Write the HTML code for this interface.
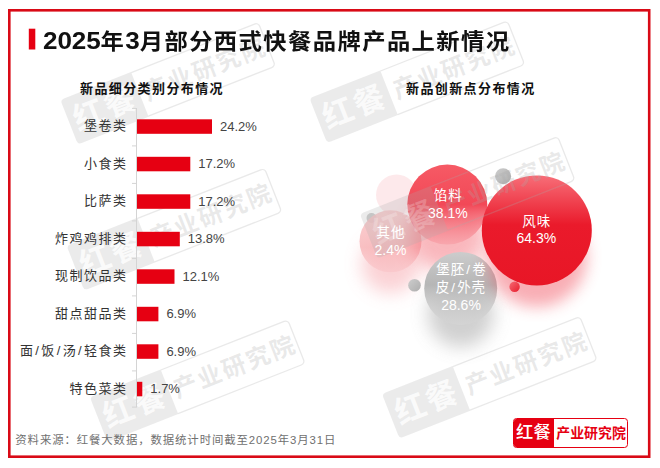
<!DOCTYPE html>
<html lang="zh-CN">
<head>
<meta charset="utf-8">
<title>2025年3月部分西式快餐品牌产品上新情况</title>
<style>
*{margin:0;padding:0;box-sizing:border-box}
html,body{width:660px;height:468px;background:#fff;overflow:hidden}
body{position:relative;font-family:"Liberation Sans","Noto Sans CJK SC",sans-serif;color:#333}
.abs{position:absolute}
#title{position:absolute;left:43px;top:22.6px;height:36px;line-height:36px;font-size:22px;letter-spacing:1.32px;font-weight:700;color:#111;white-space:nowrap;transform:scaleX(1.06);transform-origin:0 50%}
#title b{font-size:24.6px;letter-spacing:-.1px;font-weight:700;vertical-align:-0.5px}
.sub{position:absolute;font-size:13px;letter-spacing:1.4px;font-weight:700;color:#111;white-space:nowrap;line-height:20px;height:20px}
.lab{position:absolute;right:532.5px;width:140px;text-align:right;font-size:13px;letter-spacing:1.5px;line-height:20px;height:20px;color:#333;white-space:nowrap}
.val{position:absolute;font-size:13px;line-height:20px;height:20px;color:#444;white-space:nowrap}
#foot{position:absolute;left:15.3px;top:430.6px;font-size:11.4px;letter-spacing:.9px;line-height:18px;color:#707070;white-space:nowrap}
.lab i{font-style:normal;margin:0 .85px}
/* logo */
#logo{position:absolute;left:513px;top:418px;width:115.4px;height:29.5px;border:1px solid #e60012;border-radius:3.5px;background:#fff;overflow:hidden}
#logo .l{position:absolute;left:-1px;top:-1px;width:40.8px;height:30px;background:#e60012;color:#fff;font-weight:500;font-size:17.2px;line-height:29.8px;text-align:center;letter-spacing:.4px;text-indent:.4px}
#logo .r{position:absolute;left:39.8px;top:-1px;width:74.5px;height:30px;color:#e60012;font-weight:700;font-size:13.9px;line-height:30.2px;text-align:center;white-space:nowrap}
/* watermark */
.wmsvg text{font-family:"Liberation Sans","Noto Sans CJK SC",sans-serif}
/* bubbles */
.btxt{position:absolute;text-align:center;color:#fff;font-size:13.5px;letter-spacing:1px;text-indent:1px;line-height:17.8px;white-space:nowrap}
.btxt b{font-weight:400;font-size:14px;letter-spacing:0}
.btxt i{font-style:normal;margin:0 1px}
</style>
</head>
<body>
<!-- bubbles -->
<svg class="abs" style="left:0;top:0" width="660" height="468" viewBox="0 0 660 468">
<defs>
<linearGradient id="gRed" x1="0" y1="0" x2="0" y2="1"><stop offset="0" stop-color="#f76e78"/><stop offset=".45" stop-color="#ea1a2b"/><stop offset="1" stop-color="#e81626"/></linearGradient>
<linearGradient id="gRed2" x1="0" y1="0" x2="0" y2="1"><stop offset="0" stop-color="#f65a65"/><stop offset=".5" stop-color="#f24857"/><stop offset="1" stop-color="#f6808a" stop-opacity=".3"/></linearGradient>
<linearGradient id="gGray" x1="0" y1="0" x2="0" y2="1"><stop offset="0" stop-color="#cccccc"/><stop offset=".45" stop-color="#b6b6b6"/><stop offset="1" stop-color="#d6d6d6" stop-opacity=".55"/></linearGradient>
<linearGradient id="gPink" x1="0" y1="0" x2="0" y2="1"><stop offset="0" stop-color="#f9c6c8" stop-opacity=".85"/><stop offset=".6" stop-color="#f8b6b9" stop-opacity=".85"/><stop offset="1" stop-color="#f8b4b8" stop-opacity=".3"/></linearGradient>
<linearGradient id="gDot" x1="0" y1="0" x2="1" y2="1"><stop offset="0" stop-color="#cdcdcd"/><stop offset="1" stop-color="#adadad"/></linearGradient>
<linearGradient id="gDotR" x1="0" y1="0" x2="1" y2="1"><stop offset="0" stop-color="#f56a74"/><stop offset="1" stop-color="#e81c2c"/></linearGradient>
<filter id="bl" x="-50%" y="-50%" width="200%" height="200%"><feGaussianBlur stdDeviation="9"/></filter>
<filter id="bl2" x="-50%" y="-50%" width="200%" height="200%"><feGaussianBlur stdDeviation="7.5"/></filter>
</defs>
<circle cx="396.5" cy="195" r="20.5" fill="#f27880" opacity=".16"/>
<circle cx="390.5" cy="264" r="29" fill="#f48e96" opacity=".4" filter="url(#bl)"/>
<circle cx="371.5" cy="218" r="5" fill="#cdcdcd"/>
<circle cx="390.5" cy="241.3" r="31" fill="url(#gPink)"/>
<circle cx="447.3" cy="234" r="38" fill="#f25562" opacity=".42" filter="url(#bl)"/>
<circle cx="447.3" cy="204.6" r="40" fill="url(#gRed2)"/>
<circle cx="460.7" cy="314" r="33" fill="#909090" opacity=".42" filter="url(#bl)"/>
<circle cx="460.7" cy="288.5" r="36.5" fill="url(#gGray)"/>
<circle cx="503.1" cy="176.2" r="8" fill="url(#gDot)"/>
<circle cx="536.8" cy="257" r="50" fill="#f04050" opacity=".42" filter="url(#bl2)"/>
<circle cx="536.8" cy="230.4" r="55" fill="url(#gRed)"/>
<circle cx="414.5" cy="285.3" r="6.3" fill="url(#gDot)"/>
<circle cx="514.6" cy="286.7" r="5.2" fill="url(#gDotR)"/>
</svg>
<!-- watermarks -->
<svg class="abs wmsvg" style="left:0;top:0" width="660" height="468" viewBox="0 0 660 468">
<g transform="translate(168.2 83.2) rotate(-21.5)"><path d="M-102.5-24H-30.5V24H-102.5a4 4 0 0 1-4-4V-20a4 4 0 0 1 4-4z" fill="#aaa" fill-opacity=".24"/><text x="-67.5" y="11.2" text-anchor="middle" font-size="31" font-weight="700" letter-spacing="2.5" fill="#fff" fill-opacity=".8">红餐</text><path d="M-30.5-23.4H102a4 4 0 0 1 4 4V19.4a4 4 0 0 1-4 4H-30.5" fill="none" stroke="#aaa" stroke-opacity=".26" stroke-width="1.3"/><text x="39.5" y="9" text-anchor="middle" font-size="24" font-weight="700" letter-spacing="2" fill="#aaa" fill-opacity=".26">产业研究院</text></g>
<g transform="translate(417.4 81.6) rotate(-21.5)"><path d="M-102.5-24H-30.5V24H-102.5a4 4 0 0 1-4-4V-20a4 4 0 0 1 4-4z" fill="#aaa" fill-opacity=".24"/><text x="-67.5" y="11.2" text-anchor="middle" font-size="31" font-weight="700" letter-spacing="2.5" fill="#fff" fill-opacity=".8">红餐</text><path d="M-30.5-23.4H102a4 4 0 0 1 4 4V19.4a4 4 0 0 1-4 4H-30.5" fill="none" stroke="#aaa" stroke-opacity=".26" stroke-width="1.3"/><text x="39.5" y="9" text-anchor="middle" font-size="24" font-weight="700" letter-spacing="2" fill="#aaa" fill-opacity=".26">产业研究院</text></g>
<g transform="translate(174.5 229) rotate(-21.5)"><path d="M-102.5-24H-30.5V24H-102.5a4 4 0 0 1-4-4V-20a4 4 0 0 1 4-4z" fill="#aaa" fill-opacity=".24"/><text x="-67.5" y="11.2" text-anchor="middle" font-size="31" font-weight="700" letter-spacing="2.5" fill="#fff" fill-opacity=".8">红餐</text><path d="M-30.5-23.4H102a4 4 0 0 1 4 4V19.4a4 4 0 0 1-4 4H-30.5" fill="none" stroke="#aaa" stroke-opacity=".26" stroke-width="1.3"/><text x="39.5" y="9" text-anchor="middle" font-size="24" font-weight="700" letter-spacing="2" fill="#aaa" fill-opacity=".26">产业研究院</text></g>
<g transform="translate(467.7 197.2) rotate(-21.5)"><path d="M-102.5-24H-30.5V24H-102.5a4 4 0 0 1-4-4V-20a4 4 0 0 1 4-4z" fill="#aaa" fill-opacity=".24"/><text x="-67.5" y="11.2" text-anchor="middle" font-size="31" font-weight="700" letter-spacing="2.5" fill="#fff" fill-opacity=".22">红餐</text><path d="M-30.5-23.4H102a4 4 0 0 1 4 4V19.4a4 4 0 0 1-4 4H-30.5" fill="none" stroke="#aaa" stroke-opacity=".26" stroke-width="1.3"/><text x="39.5" y="9" text-anchor="middle" font-size="24" font-weight="700" letter-spacing="2" fill="#aaa" fill-opacity=".26">产业研究院</text></g>
<g transform="translate(197.8 380.6) rotate(-21.5)"><path d="M-102.5-24H-30.5V24H-102.5a4 4 0 0 1-4-4V-20a4 4 0 0 1 4-4z" fill="#aaa" fill-opacity=".24"/><text x="-67.5" y="11.2" text-anchor="middle" font-size="31" font-weight="700" letter-spacing="2.5" fill="#fff" fill-opacity=".8">红餐</text><path d="M-30.5-23.4H102a4 4 0 0 1 4 4V19.4a4 4 0 0 1-4 4H-30.5" fill="none" stroke="#aaa" stroke-opacity=".26" stroke-width="1.3"/><text x="39.5" y="9" text-anchor="middle" font-size="24" font-weight="700" letter-spacing="2" fill="#aaa" fill-opacity=".26">产业研究院</text></g>
<g transform="translate(489.8 377.2) rotate(-21.5)"><path d="M-102.5-24H-30.5V24H-102.5a4 4 0 0 1-4-4V-20a4 4 0 0 1 4-4z" fill="#aaa" fill-opacity=".24"/><text x="-67.5" y="11.2" text-anchor="middle" font-size="31" font-weight="700" letter-spacing="2.5" fill="#fff" fill-opacity=".8">红餐</text><path d="M-30.5-23.4H102a4 4 0 0 1 4 4V19.4a4 4 0 0 1-4 4H-30.5" fill="none" stroke="#aaa" stroke-opacity=".26" stroke-width="1.3"/><text x="39.5" y="9" text-anchor="middle" font-size="24" font-weight="700" letter-spacing="2" fill="#aaa" fill-opacity=".26">产业研究院</text></g>
</svg>
<div id="title"><b>2025</b>年<b>3</b>月部分西式快餐品牌产品上新情况</div>

<div class="sub" style="left:80px;top:78.5px">新品细分类别分布情况</div>
<div class="sub" style="left:406px;top:78.5px">新品创新点分布情况</div>

<svg class="abs" style="left:0;top:0" width="660" height="468" viewBox="0 0 660 468">
<rect x="9.3" y="10.3" width="639.9" height="446.4" fill="none" stroke="#d90a16" stroke-width="2.6"/>
<rect x="28.8" y="28.7" width="6.5" height="20.8" fill="#e60012"/>
<rect x="136" y="108" width="1" height="299.6" fill="#d4d4d4"/>
<rect x="132" y="107.9" width="4" height="1" fill="#d4d4d4"/>
<rect x="132" y="145.4" width="4" height="1" fill="#d4d4d4"/>
<rect x="132" y="182.9" width="4" height="1" fill="#d4d4d4"/>
<rect x="132" y="220.4" width="4" height="1" fill="#d4d4d4"/>
<rect x="132" y="257.9" width="4" height="1" fill="#d4d4d4"/>
<rect x="132" y="295.4" width="4" height="1" fill="#d4d4d4"/>
<rect x="132" y="332.9" width="4" height="1" fill="#d4d4d4"/>
<rect x="132" y="370.4" width="4" height="1" fill="#d4d4d4"/>
<rect x="132" y="406.6" width="4" height="1" fill="#d4d4d4"/>
<rect x="137" y="119.3" width="75.0" height="14.5" fill="#e60012"/>
<rect x="137" y="156.8" width="53.3" height="14.5" fill="#e60012"/>
<rect x="137" y="194.3" width="53.3" height="14.5" fill="#e60012"/>
<rect x="137" y="231.8" width="42.8" height="14.5" fill="#e60012"/>
<rect x="137" y="269.3" width="37.5" height="14.5" fill="#e60012"/>
<rect x="137" y="306.8" width="21.4" height="14.5" fill="#e60012"/>
<rect x="137" y="344.3" width="21.4" height="14.5" fill="#e60012"/>
<rect x="137" y="381.8" width="5.3" height="14.5" fill="#e60012"/>
</svg>
<div class="lab" style="top:116.0px">堡卷类</div><div class="val" style="left:220.0px;top:116.5px">24.2%</div>
<div class="lab" style="top:153.6px">小食类</div><div class="val" style="left:198.3px;top:154.1px">17.2%</div>
<div class="lab" style="top:191.1px">比萨类</div><div class="val" style="left:198.3px;top:191.6px">17.2%</div>
<div class="lab" style="top:228.6px">炸鸡鸡排类</div><div class="val" style="left:187.8px;top:229.1px">13.8%</div>
<div class="lab" style="top:266.1px">现制饮品类</div><div class="val" style="left:182.5px;top:266.6px">12.1%</div>
<div class="lab" style="top:303.6px">甜点甜品类</div><div class="val" style="left:166.4px;top:304.1px">6.9%</div>
<div class="lab" style="top:341.1px">面<i>/</i>饭<i>/</i>汤<i>/</i>轻食类</div><div class="val" style="left:166.4px;top:341.6px">6.9%</div>
<div class="lab" style="top:378.6px">特色菜类</div><div class="val" style="left:150.3px;top:379.1px">1.7%</div>

<div class="btxt" style="left:417.8px;top:187.2px;width:60px">馅料<br><b>38.1%</b></div>
<div class="btxt" style="left:360.5px;top:224.2px;width:60px">其他<br><b>2.4%</b></div>
<div class="btxt" style="left:506.3px;top:212.6px;width:60px">风味<br><b>64.3%</b></div>
<div class="btxt" style="left:421px;top:261.4px;width:80px">堡胚<i>/</i>卷<br>皮<i>/</i>外壳<br><b>28.6%</b></div>

<div id="foot">资料来源：红餐大数据，数据统计时间截至2025年3月31日</div>
<div id="logo"><div class="l">红餐</div><div class="r">产业研究院</div></div>
</body>
</html>
